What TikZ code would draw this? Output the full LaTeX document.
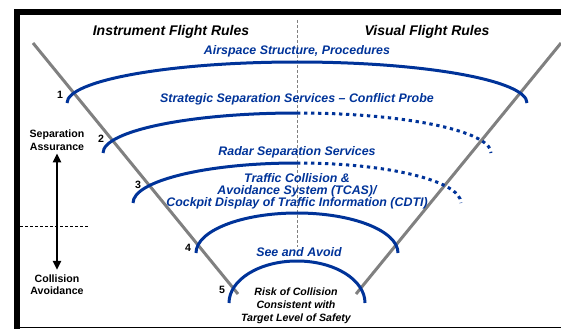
\documentclass[tikz,border=0pt]{standalone}
\usepackage{fontspec}
\setmainfont{Liberation Sans}
\usepackage{xcolor}
\usepackage{tikz}
\usetikzlibrary{
  arrows.meta
}
\definecolor{layerblue}{HTML}{003399}
\definecolor{conegray}{HTML}{808080}

\begin{document}
\begin{tikzpicture}[
  x=1pt, y=-1pt,
  cone/.style={conegray, line width=3pt},
  layer/.style={layerblue, line width=3pt},
  layerdot/.style={layerblue, line width=3pt, dash pattern=on 3.3pt off 3.7pt},
  rules/.style={
    font=\fontsize{14}{16}\selectfont\bfseries\itshape,
    anchor=base, inner sep=0pt
  },
  layerlab/.style={
    text=layerblue, font=\fontsize{12.4}{11.5}\selectfont\bfseries\itshape,
    align=center, inner sep=0pt
  },
  numlab/.style={
    font=\fontsize{10.6}{12}\selectfont\bfseries,
    anchor=base, inner sep=0pt
  },
  sidelab/.style={
    font=\fontsize{10.6}{12.5}\selectfont\bfseries,
    align=center, inner sep=0pt
  },
  risklab/.style={
    font=\fontsize{10.6}{13}\selectfont\bfseries\itshape,
    align=center, inner sep=0pt
  },
  arr/.style={{Triangle[length=9pt,width=8pt]}-{Triangle[length=9pt,width=8pt]}, line width=2.2pt},
]
\useasboundingbox (0,0) rectangle (561,329);

% Frame
\fill (14,9) rectangle (20,328.5);
\fill (14,9) rectangle (561,15);
\draw[line width=1.4pt] (14,327.5) -- (561,327.5);

% IFR / VFR divider
\draw[conegray, line width=0.7pt, dash pattern=on 3pt off 2pt] (297,20) -- (297,247);

% Cone
\draw[cone] (33,43) -- (238,294);
\draw[cone] (561,43) -- (356,294);

% Layers
\draw[layer] (67,103) arc[start angle=180, end angle=0, x radius=230pt, y radius=41pt];
\draw[layer] (103,153) arc[start angle=180, end angle=90, x radius=194pt, y radius=40pt];
\draw[layerdot] (297,113) arc[start angle=90, end angle=0, x radius=194pt, y radius=40pt];
\draw[layer] (133,203) arc[start angle=180, end angle=90, x radius=164pt, y radius=40pt];
\draw[layerdot] (297,163) arc[start angle=90, end angle=0, x radius=164pt, y radius=40pt];
\draw[layer] (196,253) arc[start angle=180, end angle=0, x radius=101pt, y radius=40pt];
\draw[layer] (229,303) arc[start angle=180, end angle=0, x radius=68pt, y radius=42pt];

% Headings
\node[rules] (ifr) at (171,35) {Instrument Flight Rules};
\node[rules] (vfr) at (427,35) {Visual Flight Rules};

% Layer labels
\node[layerlab, anchor=base] (airspace) at (297,54) {Airspace Structure, Procedures};
\node[layerlab, anchor=base] (strategic) at (297,102.5) {Strategic Separation Services -- Conflict Probe};
\node[layerlab, anchor=base] (radar) at (297,155) {Radar Separation Services};
\node[layerlab] (tcas) at (297,191.5) {Traffic Collision \&\\Avoidance System (TCAS)/\\Cockpit Display of Traffic Information (CDTI)};
\node[layerlab, anchor=base] (seeavoid) at (299,256) {See and Avoid};
\node[risklab] (risk) at (296,306.2) {Risk of Collision\\Consistent with\\Target Level of Safety};

% Layer numbers
\node[numlab] (n1) at (60,98.8) {1};
\node[numlab] (n2) at (101,142.8) {2};
\node[numlab] (n3) at (138,188.8) {3};
\node[numlab] (n4) at (188,251.8) {4};
\node[numlab] (n5) at (222,293.8) {5};

% Assurance / avoidance scale
\node[sidelab] (sepass) at (57,140.2) {Separation\\Assurance};
\node[sidelab] (colavoid) at (57,284.6) {Collision\\Avoidance};
\draw[arr] ([yshift=-2.8pt]sepass.south) -- ([yshift=4.3pt]colavoid.north);
\draw[line width=0.7pt, dash pattern=on 3pt off 2pt] (20,226) -- (88,226);

\end{tikzpicture}
\end{document}
